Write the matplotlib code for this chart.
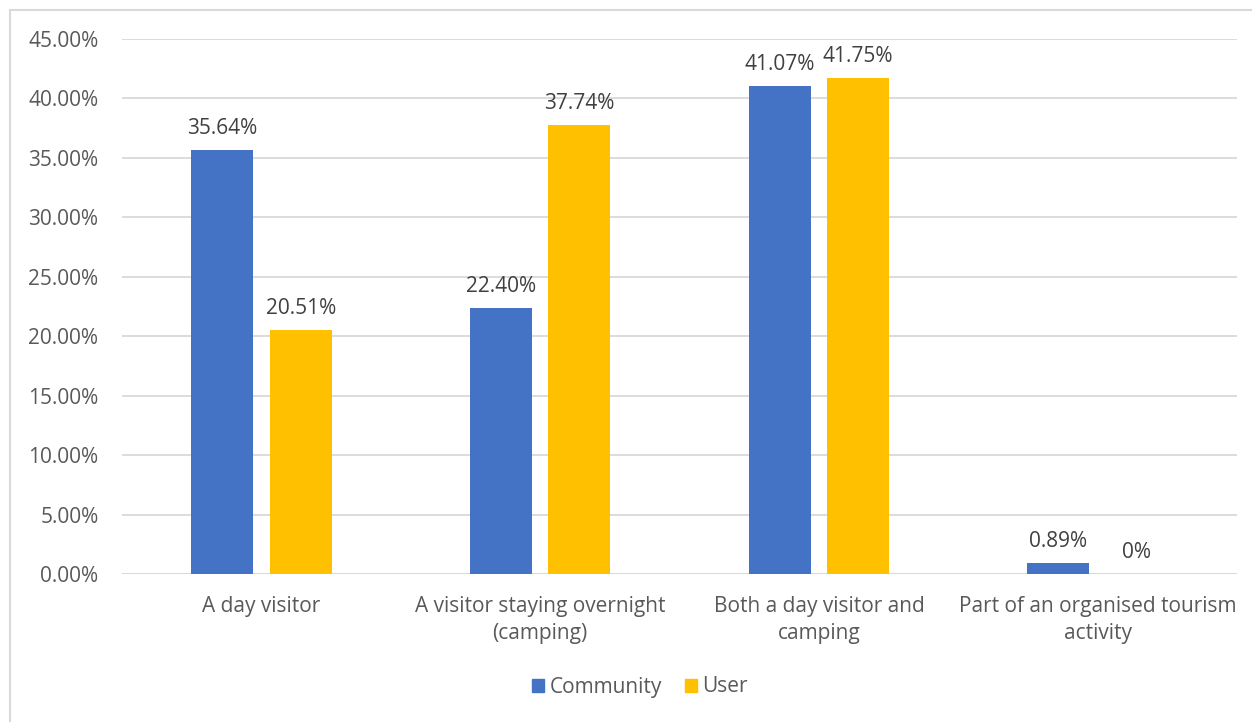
import matplotlib
matplotlib.use("Agg")
import matplotlib.pyplot as plt
import numpy as np
from matplotlib.patches import Rectangle
from matplotlib.lines import Line2D

categories = ["A day visitor", "A visitor staying overnight\n(camping)",
              "Both a day visitor and\ncamping", "Part of an organised tourism\nactivity"]
community = [35.64, 22.40, 41.07, 0.89]
user = [20.51, 37.74, 41.75, 0.0]
community_labels = ["35.64%", "22.40%", "41.07%", "0.89%"]
user_labels = ["20.51%", "37.74%", "41.75%", "0%"]
yticks = [0, 5, 10, 15, 20, 25, 30, 35, 40, 45]

plt.rcParams['font.family'] = ['Open Sans', 'DejaVu Sans']
TXT = '#595959'
BLUE = '#4472C4'
GOLD = '#FFC000'
GRID = '#D9D9D9'
FS = 15

fig = plt.figure(figsize=(12.52, 7.22), dpi=100)
ax = fig.add_axes([122/1252, 1-574/722, (1237-122)/1252, (574-39)/722])

x = np.arange(len(categories))
w = 0.222
off = 0.141
b1 = ax.bar(x - off, community, w, color=BLUE, zorder=3)
b2 = ax.bar(x + off, user, w, color=GOLD, zorder=3)

for bars, labs in ((b1, community_labels), (b2, user_labels)):
    for r, lab in zip(bars, labs):
        ax.annotate(lab, (r.get_x() + r.get_width()/2, r.get_height()),
                    xytext=(0, 8), textcoords='offset points',
                    ha='center', va='bottom', fontsize=FS, color='#404040')

ax.set_xlim(-0.5, 3.5)
ax.set_ylim(0, 45)
ax.set_yticks(yticks)
ax.set_yticklabels([f"{v:.2f}%" for v in yticks])
ax.set_xticks(x)
ax.set_xticklabels(categories, linespacing=1.35)
ax.tick_params(axis='both', length=0, labelsize=FS, colors=TXT)
ax.tick_params(axis='y', pad=17)
ax.tick_params(axis='x', pad=16)
ax.grid(axis='y', color=GRID, linewidth=1.3, zorder=0)
for s in ax.spines.values():
    s.set_visible(False)
ax.axhline(0, color=GRID, linewidth=1.3, zorder=2)

# chart border
fig.add_artist(Line2D([10/1252, 10/1252], [0, 1-10/722], color=GRID, linewidth=1.5, transform=fig.transFigure))
fig.add_artist(Line2D([10/1252, 1], [1-10/722, 1-10/722], color=GRID, linewidth=1.5, transform=fig.transFigure))

handles = [Rectangle((0, 0), 1, 1, color=BLUE), Rectangle((0, 0), 1, 1, color=GOLD)]
leg = fig.legend(handles, ["Community", "User"], loc='center', bbox_to_anchor=(640/1252, 1-687/722),
                 ncol=2, frameon=False, fontsize=FS, handlelength=0.6, handleheight=0.6,
                 handletextpad=0.25, columnspacing=1.1)
for t in leg.get_texts():
    t.set_color(TXT)

fig.savefig("out.png", dpi=100, facecolor='white')
